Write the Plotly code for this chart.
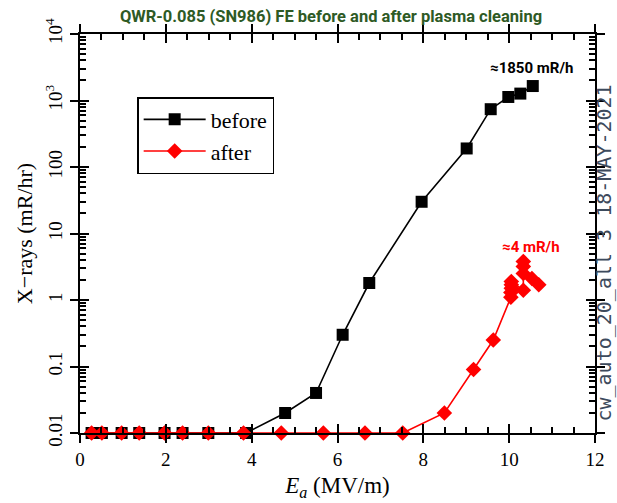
import plotly.graph_objects as go
import numpy as np

# ---- data ----
before_x = [0.27, 0.51, 0.97, 1.38, 1.97, 2.39, 2.99, 3.87, 4.78, 5.50, 6.12, 6.74,
            7.96, 9.01, 9.57, 9.98, 10.26, 10.55]
before_y = [0.01, 0.01, 0.01, 0.01, 0.01, 0.01, 0.01, 0.01, 0.02, 0.04, 0.3, 1.8,
            30, 190, 740, 1130, 1270, 1650]

after_x = [0.27, 0.51, 0.97, 1.38, 1.97, 2.39, 2.99, 3.81, 4.69, 5.67, 6.64, 7.52,
           8.49, 9.17, 9.63, 10.04, 10.04, 10.05, 10.05, 10.05, 10.33, 10.33, 10.33,
           10.33, 10.53, 10.69]
after_y = [0.01, 0.01, 0.01, 0.01, 0.01, 0.01, 0.01, 0.01, 0.01, 0.01, 0.01, 0.01,
           0.02, 0.09, 0.25, 1.1, 1.3, 1.5, 1.7, 1.9, 1.4, 3.8, 3.2, 2.5, 2.1, 1.7]

x_ticks = [0, 2, 4, 6, 8, 10, 12]
y_major = [0.01, 0.1, 1, 10, 100, 1000, 10000]
y_labels = ["0.01", "0.1", "1", "10", "100", "10<sup>3</sup>", "10<sup>4</sup>"]
y_minor = [m * 10.0 ** e for e in range(-2, 4) for m in range(2, 10)]
x_minor = [v / 2 for v in range(0, 25) if v % 4 != 0]

title = "QWR-0.085 (SN986) FE before and after plasma cleaning"
ann_before = "≈1850 mR/h"
ann_after = "≈4 mR/h"
side_text = "cw_auto_20_all 3 18-MAY-2021"

SERIF = "Liberation Serif"

fig = go.Figure()
fig.add_trace(go.Scatter(x=before_x, y=before_y, mode="lines+markers", name="before",
                         line=dict(color="black", width=1.6),
                         marker=dict(symbol="square", size=12, color="black"),
                         cliponaxis=False))
fig.add_trace(go.Scatter(x=after_x, y=after_y, mode="lines+markers", name="after",
                         line=dict(color="#ff0000", width=1.6),
                         marker=dict(symbol="diamond", size=12, color="#ff0000"),
                         cliponaxis=False))

fig.update_layout(
    width=617, height=503,
    margin=dict(l=80, r=22, t=34, b=70, autoexpand=False),
    paper_bgcolor="white", plot_bgcolor="white",
    showlegend=True,
    legend=dict(x=0.111, y=0.842, xanchor="left", yanchor="top",
                bordercolor="black", borderwidth=1.5, bgcolor="white",
                font=dict(family=SERIF, size=22, color="black"),
                itemwidth=62, tracegroupgap=2),
    xaxis=dict(range=[0, 12], tickvals=x_ticks, ticks="outside", ticklen=8,
               tickwidth=2, tickcolor="black", showline=True, linewidth=2,
               linecolor="black", mirror="ticks", showgrid=False, zeroline=False,
               automargin=False,
               tickfont=dict(family=SERIF, size=19, color="black"),
               minor=dict(tickvals=x_minor, ticks="inside", ticklen=6,
                          tickwidth=1.5, tickcolor="black"),
               title=dict(text="<i>E</i><sub><i>a</i></sub> (MV/m)", standoff=8,
                          font=dict(family=SERIF, size=23, color="black"))),
    yaxis=dict(type="log", range=[-2, 4], tickvals=y_major, ticktext=y_labels,
               ticks="outside", ticklen=8, tickwidth=2, tickcolor="black",
               showline=True, linewidth=2, linecolor="black", mirror="ticks",
               showgrid=False, zeroline=False, tickangle=-90, automargin=False,
               tickfont=dict(family=SERIF, size=19, color="black"),
               minor=dict(tickvals=y_minor, ticks="inside", ticklen=6,
                          tickwidth=1.5, tickcolor="black"),
               title=dict(text="X\u2212rays (mR/hr)", standoff=4,
                          font=dict(family=SERIF, size=22, color="black"))),
    # overlay axes for the inner half of the major ticks
    xaxis2=dict(range=[0, 12], overlaying="x", anchor="y", side="bottom",
                tickvals=x_ticks, ticks="inside", ticklen=9, tickwidth=2,
                tickcolor="black", showticklabels=False, mirror="ticks",
                showline=False, showgrid=False, zeroline=False, automargin=False),
    yaxis2=dict(type="log", range=[-2, 4], overlaying="y", anchor="x", side="left",
                tickvals=y_major, ticks="inside", ticklen=9, tickwidth=2,
                tickcolor="black", showticklabels=False, mirror="ticks",
                showline=False, showgrid=False, zeroline=False, automargin=False),
)

# dummy invisible trace to activate overlay axes
fig.add_trace(go.Scatter(x=[0], y=[1], xaxis="x2", yaxis="y2", mode="markers",
                         marker=dict(opacity=0), showlegend=False, hoverinfo="skip"))

fig.add_annotation(text=title, xref="paper", yref="paper", x=0.487, y=1.045,
                   xanchor="center", yanchor="middle", showarrow=False,
                   font=dict(family="Roboto", size=16.5, color="#2e5a25", weight="bold"))
fig.add_annotation(text=ann_before, x=10.51, y=np.log10(3050), xref="x", yref="y",
                   showarrow=False, xanchor="center", yanchor="middle",
                   font=dict(family="Roboto", size=15, color="black", weight="bold"))
fig.add_annotation(text=ann_after, x=10.51, y=np.log10(6.3), xref="x", yref="y",
                   showarrow=False, xanchor="center", yanchor="middle",
                   font=dict(family="Roboto", size=15, color="#ff0000", weight="bold"))
fig.add_annotation(text=side_text, xref="paper", yref="paper", x=1.0425, y=0.452,
                   textangle=-90, showarrow=False, xanchor="right", yanchor="middle",
                   borderpad=0,
                   font=dict(family="DejaVu Sans Mono", size=20, color="#3d4a5c"))

fig.write_html("out.html")
